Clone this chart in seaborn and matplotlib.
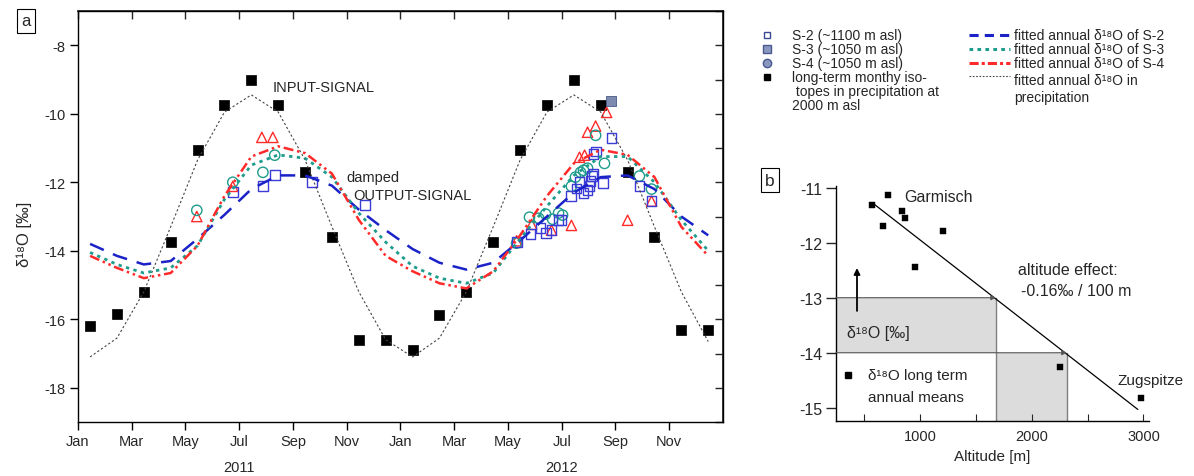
import numpy as np
import pandas as pd
import matplotlib
matplotlib.use("Agg")
import matplotlib.pyplot as plt
import seaborn as sns
from matplotlib.lines import Line2D

sns.set_theme(style="ticks")
plt.rcParams["font.family"] = ["Liberation Sans", "DejaVu Sans"]

# ---------------- panel a data (x in months since 1 Jan 2011) ----------------
month_ticks = [0, 2, 4, 6, 8, 10, 12, 14, 16, 18, 20, 22]
month_labels = ["Jan", "Mar", "May", "Jul", "Sep", "Nov"] * 2
year_labels = ["2011", "2012"]
year_pos = [6, 18]

mid_month = [0.45, 1.45, 2.45, 3.45, 4.45, 5.45, 6.45, 7.45, 8.45, 9.45, 10.45, 11.45,
             12.45, 13.45, 14.45, 15.45, 16.45, 17.45, 18.45, 19.45, 20.45, 21.45, 22.45, 23.45]

precip_monthly = [-16.2, -15.85, -15.2, -13.75, -11.05, -9.75, -9.0, -9.75, -11.7, -13.6, -16.6, -16.6,
                  -16.9, -15.87, -15.2, -13.75, -11.05, -9.75, -9.0, -9.75, -11.7, -13.6, -16.3, -16.3]

fit_precip = [-17.1, -16.55, -15.2, -13.3, -11.35, -9.95, -9.45, -9.95, -11.35, -13.3, -15.2, -16.6,
              -17.1, -16.55, -15.2, -13.3, -11.35, -9.95, -9.45, -9.95, -11.35, -13.3, -15.2, -16.65]
fit_s2 = [-13.8, -14.15, -14.4, -14.3, -13.65, -12.95, -12.2, -11.8, -11.8, -12.1, -12.8, -13.4,
          -13.95, -14.35, -14.55, -14.35, -13.7, -13.0, -12.3, -11.85, -11.8, -12.2, -13.0, -13.55]
fit_s3 = [-14.05, -14.4, -14.65, -14.5, -13.85, -12.5, -11.5, -11.2, -11.3, -11.85, -12.9, -13.75,
          -14.45, -14.8, -14.95, -14.65, -13.65, -12.7, -11.8, -11.25, -11.25, -12.0, -13.1, -14.0]
fit_s4 = [-14.15, -14.5, -14.8, -14.65, -13.85, -12.4, -11.25, -10.95, -11.15, -11.75, -13.1, -14.15,
          -14.6, -14.95, -15.1, -14.6, -13.55, -12.4, -11.45, -11.05, -11.2, -11.85, -13.3, -14.15]

s2_t = [5.76, 6.88, 7.32, 8.70, 10.67,
        16.32, 16.84, 17.21, 17.40, 17.62, 17.88, 17.99, 18.33, 18.55, 18.66, 18.81, 18.96, 19.03,
        19.07, 19.14, 19.18, 19.26, 19.18, 19.52, 19.85, 20.89, 21.34]
s2_v = [-12.29, -12.12, -11.8, -12.0, -12.67,
        -13.75, -13.52, -13.34, -13.49, -13.4, -13.11, -13.11, -12.41, -12.18, -12.0, -12.32, -12.23, -12.12,
        -11.97, -11.82, -11.77, -11.1, -11.18, -12.03, -10.72, -12.12, -12.55]

s3_t = [4.42, 5.76, 6.88, 7.32,
        16.32, 16.80, 17.14, 17.40, 17.66, 17.88, 18.03, 18.36, 18.51, 18.70, 18.81, 18.96, 19.26, 19.59,
        20.89, 21.34]
s3_v = [-12.82, -12.0, -11.71, -11.21,
        -13.78, -13.02, -13.05, -12.93, -13.08, -12.9, -12.96, -12.12, -11.85, -11.71, -11.65, -11.59, -10.63,
        -11.45, -11.82, -12.2]

s4_t = [4.42, 5.76, 6.84, 7.25,
        16.32, 16.88, 17.62, 18.36, 18.66, 18.85, 18.96, 19.26, 19.67, 20.45, 21.34]
s4_v = [-13.0, -12.12, -10.69, -10.69,
        -13.71, -13.23, -13.4, -13.26, -11.27, -11.21, -10.54, -10.36, -9.96, -13.11, -12.55]

stray_t = [19.85]
stray_v = [-9.62]

# ---------------- panel b data ----------------
alt = [570, 714, 669, 839, 866, 1206, 955, 2253, 2978]
d18_mean = [-11.31, -11.13, -11.69, -11.42, -11.55, -11.79, -12.44, -14.25, -14.82]
alt_fit = [570, 2950]
d18_fit = [-11.27, -15.03]
band_alt = [1680, 2315]
band_d18 = [-13.0, -14.0]

C_BLUE = "#1a22c8"
C_TEAL = "#1e9c8c"
C_RED = "#ff2a2a"
C_SQ = "#3b3bd6"
D18 = "δ¹⁸O"

W, H = 1194, 477
fig = plt.figure(figsize=(W / 100, H / 100), dpi=100)


def fx(px):
    return px / W


def fy(py):
    return 1 - py / H


# ================= panel a =================
ax = fig.add_axes([fx(78), fy(423), fx(723) - fx(78), fy(12) - fy(423)])

sns.lineplot(x=mid_month, y=fit_precip, ax=ax, color="#444444", lw=0.8,
             linestyle=(0, (2, 2)), sort=False, estimator=None)
sns.lineplot(x=mid_month, y=fit_s2, ax=ax, color=C_BLUE, lw=1.8,
             linestyle=(0, (6, 4)), sort=False, estimator=None)
sns.lineplot(x=mid_month, y=fit_s3, ax=ax, color=C_TEAL, lw=2.0,
             linestyle=(0, (1.2, 1.6)), sort=False, estimator=None)
sns.lineplot(x=mid_month, y=fit_s4, ax=ax, color=C_RED, lw=1.8,
             linestyle=(0, (4, 1.5, 1, 1.5, 1, 1.5)), sort=False, estimator=None)

sns.scatterplot(x=mid_month, y=precip_monthly, ax=ax, marker="s", s=50,
                color="black", edgecolor="black", linewidth=0.5)


def open_markers(xs, ys, marker, size, col):
    sns.scatterplot(x=xs, y=ys, ax=ax, marker=marker, s=size, color=col, linewidth=1.0)
    coll = ax.collections[-1]
    coll.set_facecolor("none")
    coll.set_edgecolor(col)


open_markers(s4_t, s4_v, "^", 55, C_RED)
open_markers(s3_t, s3_v, "o", 55, C_TEAL)
open_markers(s2_t, s2_v, "s", 50, C_SQ)
sns.scatterplot(x=stray_t, y=stray_v, ax=ax, marker="s", s=50, color="#7d8bb0",
                edgecolor="#4a5a88", linewidth=0.6)

ax.set_xlim(0, 24)
ax.set_ylim(-19, -7)
ax.set_xticks(month_ticks)
ax.set_xticklabels(month_labels, fontsize=10.5)
ax.set_yticks([-18, -16, -14, -12, -10, -8])
ax.set_yticklabels(["-18", "-16", "-14", "-12", "-10", "-8"], fontsize=10.5)
ax.tick_params(axis="both", direction="out", length=6, width=1, color="black", pad=3,
               bottom=True, left=True, top=False, right=False)
for s in ax.spines.values():
    s.set_visible(True)
    s.set_color("black")
    s.set_linewidth(1.0)
ax.set_xlabel("")
ax.set_ylabel(D18 + " [‰]", fontsize=12)
ax.yaxis.set_label_coords(-0.072, 0.46)

sec_r = ax.secondary_yaxis("right")
sec_r.set_yticks([-19, -18, -17, -16, -15, -14, -13, -12, -11, -10, -9, -8, -7])
sec_r.tick_params(direction="in", length=6, width=1, labelright=False, right=True)
sec_t = ax.secondary_xaxis("top")
sec_t.set_xticks(month_ticks)
sec_t.tick_params(direction="in", length=6, width=1, labeltop=False, top=True)

for yl, yp in zip(year_labels, year_pos):
    ax.text(yp, -0.11, yl, transform=ax.get_xaxis_transform(), ha="center", va="center", fontsize=10.5)

ax.text(7.25, -9.23, "INPUT-SIGNAL", fontsize=10.5, ha="left", va="center")
ax.text(10.0, -11.85, "damped", fontsize=10.5, ha="left", va="center")
ax.text(10.26, -12.38, "OUTPUT-SIGNAL", fontsize=10.5, ha="left", va="center")

fig.text(fx(26), fy(22), "a", fontsize=12, ha="center", va="center",
         bbox=dict(boxstyle="square,pad=0.25", fc="white", ec="black", lw=0.8))

# ================= legend (manual) =================
leg_rows = [36, 50, 64, 78]
left_labels = ["S-2 (~1100 m asl)", "S-3 (~1050 m asl)", "S-4 (~1050 m asl)"]
left_extra = ["long-term monthy iso-", " topes in precipitation at", "2000 m asl"]
left_markers = [("s", "none", "#3a4a90", 5), ("s", "#8a98c0", "#4a5a90", 6),
                ("o", "#8a98c0", "#4a5a90", 6), ("s", "black", "black", 5)]
for py, (m, fc, ec, ms) in zip(leg_rows, left_markers):
    fig.add_artist(Line2D([fx(767)], [fy(py)], marker=m, markersize=ms, mfc=fc, mec=ec,
                          ls="none", transform=fig.transFigure))
for py, lab in zip(leg_rows[:3], left_labels):
    fig.text(fx(792), fy(py), lab, fontsize=10, ha="left", va="center")
for i, line in enumerate(left_extra):
    fig.text(fx(792), fy(78 + 14 * i), line, fontsize=10, ha="left", va="center")

right_styles = [(C_BLUE, (0, (3, 2)), 2.2), (C_TEAL, (0, (1.2, 1.4)), 2.2),
                (C_RED, (0, (3, 1, 1, 1)), 2.2), ("#444444", (0, (1.5, 1.5)), 0.8)]
right_rows = [36, 50, 64, 77]
right_labels = ["fitted annual " + D18 + " of S-2", "fitted annual " + D18 + " of S-3",
                "fitted annual " + D18 + " of S-4"]
for py, (c, ls, lw) in zip(right_rows, right_styles):
    fig.add_artist(Line2D([fx(969), fx(1010)], [fy(py), fy(py)], color=c, ls=ls, lw=lw,
                          transform=fig.transFigure))
for py, lab in zip(right_rows[:3], right_labels):
    fig.text(fx(1014), fy(py), lab, fontsize=10, ha="left", va="center")
fig.text(fx(1014), fy(81), "fitted annual " + D18 + " in", fontsize=10, ha="left", va="center")
fig.text(fx(1014), fy(98), "precipitation", fontsize=10, ha="left", va="center")

# ================= panel b =================
axb = fig.add_axes([fx(836), fy(422), fx(1149) - fx(836), fy(187) - fy(422)])
xl = (248, 3050)
yl = (-15.24, -10.97)

axb.fill_between([xl[0], band_alt[0]], band_d18[1], band_d18[0], color="#dcdcdc", lw=0, zorder=0)
axb.fill_between([band_alt[0], band_alt[1]], yl[0], band_d18[1], color="#dcdcdc", lw=0, zorder=0)
axb.plot([band_alt[0], band_alt[0]], [yl[0], band_d18[0]], color="#808080", lw=1.0)
axb.plot([band_alt[1], band_alt[1]], [yl[0], band_d18[1]], color="#808080", lw=1.0)
axb.annotate("", xy=(band_alt[0], band_d18[0]), xytext=(xl[0], band_d18[0]),
             arrowprops=dict(arrowstyle="-|>", color="#555555", lw=0.8, mutation_scale=7,
                             shrinkA=0, shrinkB=0))
axb.annotate("", xy=(band_alt[1], band_d18[1]), xytext=(xl[0], band_d18[1]),
             arrowprops=dict(arrowstyle="-|>", color="#555555", lw=0.8, mutation_scale=7,
                             shrinkA=0, shrinkB=0))
axb.annotate("", xy=(436, -12.46), xytext=(436, -13.24),
             arrowprops=dict(arrowstyle="-|>", color="black", lw=1.3, mutation_scale=9,
                             shrinkA=0, shrinkB=0))

sns.lineplot(x=alt_fit, y=d18_fit, ax=axb, color="black", lw=0.9, sort=False, estimator=None)
sns.scatterplot(x=alt, y=d18_mean, ax=axb, marker="s", s=24, color="black", edgecolor="black",
                linewidth=0.3, zorder=3)

axb.set_xlim(*xl)
axb.set_ylim(*yl)
axb.set_xticks([1000, 2000, 3000])
axb.set_xticks([500, 1500, 2500], minor=True)
axb.set_xticklabels(["1000", "2000", "3000"], fontsize=10.5)
axb.set_yticks([-15, -14, -13, -12, -11])
axb.set_yticklabels(["-15", "-14", "-13", "-12", "-11"], fontsize=11.5)
axb.tick_params(axis="x", which="both", direction="in", length=5, width=0.8, bottom=True, pad=6)
axb.tick_params(axis="y", direction="out", length=7, width=1, left=True, pad=3)
for side in ["top", "right"]:
    axb.spines[side].set_visible(False)
for side in ["left", "bottom"]:
    axb.spines[side].set_color("black")
    axb.spines[side].set_linewidth(1.0)
axb.set_xlabel("Altitude [m]", fontsize=11, labelpad=4)
axb.set_ylabel("")

axb.text(857, -11.16, "Garmisch", fontsize=11.5, ha="left", va="center")
axb.text(1877, -12.48, "altitude effect:", fontsize=11.5, ha="left", va="center")
axb.text(1905, -12.87, "-0.16‰ / 100 m", fontsize=11.5, ha="left", va="center")
axb.text(344, -13.63, D18 + " [‰]", fontsize=11.5, ha="left", va="center")
axb.text(2765, -14.5, "Zugspitze", fontsize=11, ha="left", va="center")
axb.plot([355], [-14.41], marker="s", ms=4, color="black", ls="none")
axb.text(535, -14.41, D18 + " long term", fontsize=11, ha="left", va="center")
axb.text(535, -14.8, "annual means", fontsize=11, ha="left", va="center")

fig.text(fx(770), fy(181), "b", fontsize=12.5, ha="center", va="center",
         bbox=dict(boxstyle="square,pad=0.25", fc="white", ec="black", lw=0.8))

fig.savefig("out.png", dpi=100)
